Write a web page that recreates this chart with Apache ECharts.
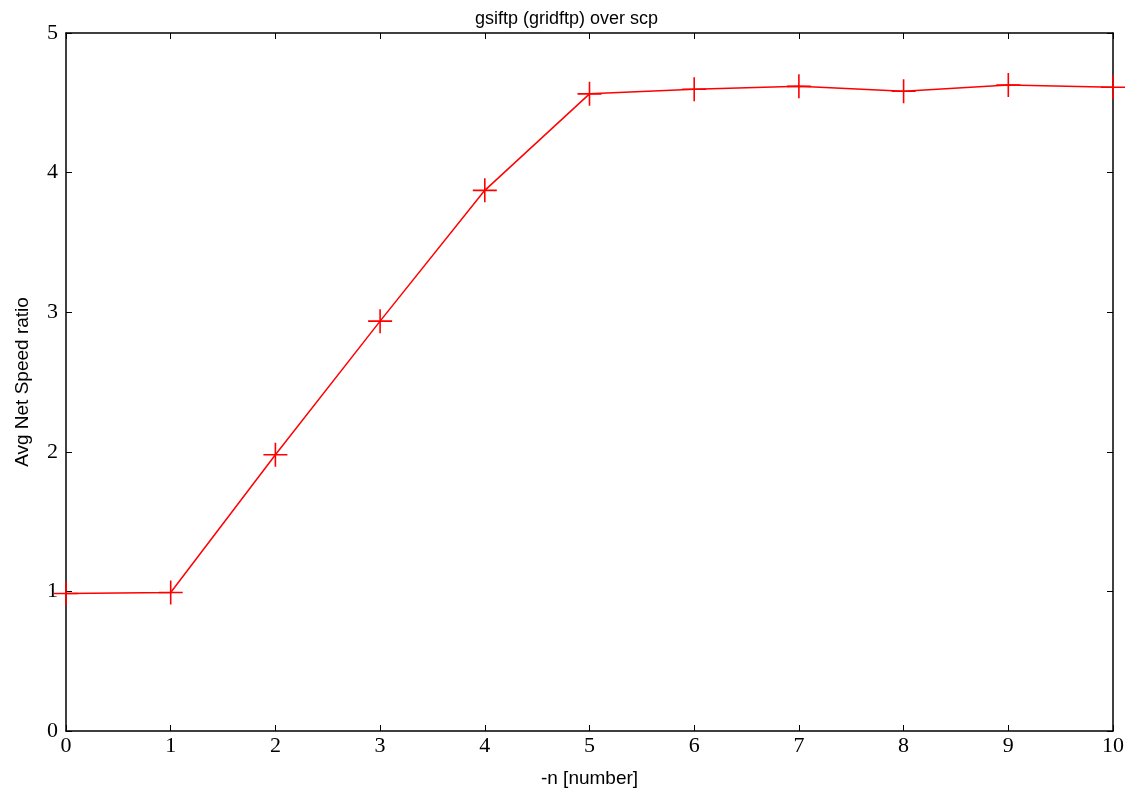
<!DOCTYPE html>
<html>
<head>
<meta charset="utf-8">
<script src="https://cdn.jsdelivr.net/npm/echarts@6/dist/echarts.min.js"></script>
<style>
html, body { margin: 0; padding: 0; background: #fff; }
#chart { width: 1133px; height: 795px; }
</style>
</head>
<body>
<div id="chart"></div>
<script>
var xValues = [0, 1, 2, 3, 4, 5, 6, 7, 8, 9, 10];
var speedRatio = [0.985, 0.992, 1.979, 2.936, 3.873, 4.564, 4.597, 4.618, 4.583, 4.628, 4.611];

var myChart = echarts.init(document.getElementById('chart'));

// plus marker, thin filled cross
var plus = 'path://M-12,-0.8H-0.8V-12H0.8V-0.8H12V0.8H0.8V12H-0.8V0.8H-12Z';

var tickLabel = { color: '#000', fontFamily: 'Liberation Serif', fontSize: 22 };

var option = {
    animation: false,
    title: {
        text: 'gsiftp (gridftp) over scp',
        left: 'center',
        top: 5,
        textStyle: { fontFamily: 'Liberation Sans', fontWeight: 'normal', fontSize: 18, color: '#000' }
    },
    grid: { left: 66, right: 20, top: 33, bottom: 64, outerBoundsMode: 'none' },
    xAxis: [
        {
            type: 'value',
            min: 0, max: 10, interval: 1,
            name: '-n [number]',
            nameLocation: 'middle',
            nameGap: 38,
            nameTextStyle: { fontFamily: 'Liberation Sans', fontSize: 19, color: '#000' },
            axisLine: { onZero: false, lineStyle: { color: '#000', width: 1.5 } },
            axisTick: { inside: true, length: 6, lineStyle: { color: '#000' } },
            axisLabel: Object.assign({ margin: 4 }, tickLabel),
            splitLine: { show: false }
        },
        {
            type: 'value', position: 'top',
            min: 0, max: 10, interval: 1,
            axisLine: { onZero: false, lineStyle: { color: '#000', width: 1.5 } },
            axisTick: { inside: true, length: 6, lineStyle: { color: '#000' } },
            axisLabel: { show: false },
            splitLine: { show: false }
        }
    ],
    yAxis: [
        {
            type: 'value',
            min: 0, max: 5, interval: 1,
            name: 'Avg Net Speed ratio',
            nameLocation: 'middle',
            nameGap: 34,
            nameTextStyle: { fontFamily: 'Liberation Sans', fontSize: 19, color: '#000' },
            axisLine: { onZero: false, lineStyle: { color: '#000', width: 1.5 } },
            axisTick: { inside: true, length: 6, lineStyle: { color: '#000' } },
            axisLabel: Object.assign({ margin: 8 }, tickLabel),
            splitLine: { show: false }
        },
        {
            type: 'value', position: 'right',
            min: 0, max: 5, interval: 1,
            axisLine: { onZero: false, lineStyle: { color: '#000', width: 1.5 } },
            axisTick: { inside: true, length: 6, lineStyle: { color: '#000' } },
            axisLabel: { show: false },
            splitLine: { show: false }
        }
    ],
    series: [
        {
            type: 'line',
            data: xValues.map(function (x, i) { return [x, speedRatio[i]]; }),
            symbol: plus,
            symbolSize: 24,
            lineStyle: { color: '#ff0000', width: 1.5 },
            itemStyle: { color: '#ff0000' },
            clip: false
        }
    ]
};
myChart.setOption(option);
</script>
</body>
</html>
